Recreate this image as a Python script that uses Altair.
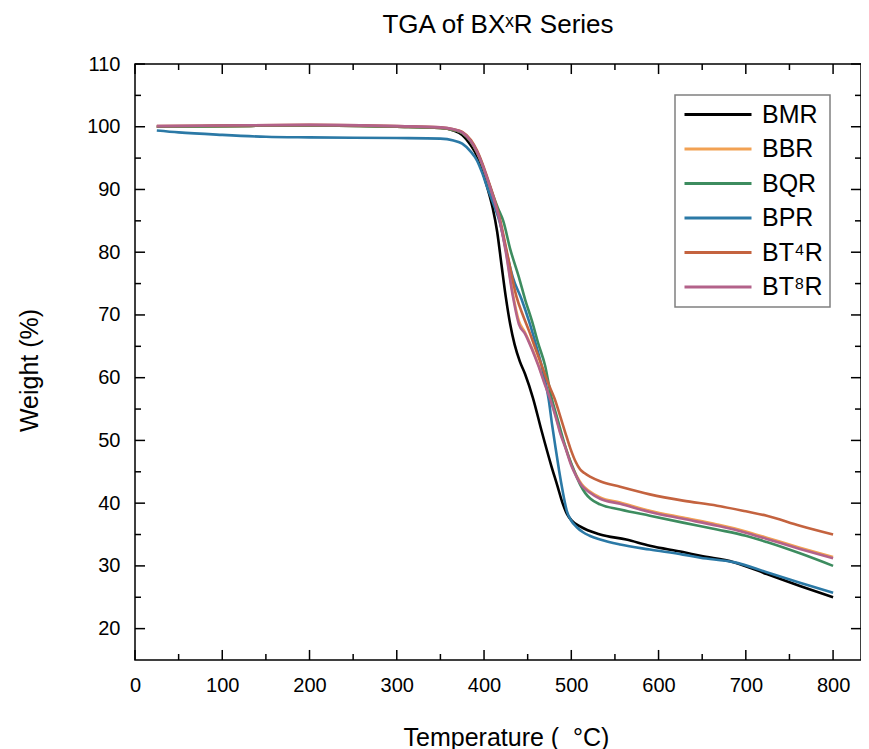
import altair as alt
import pandas as pd

FONT = "Liberation Sans"

series_names = ["BMR", "BBR", "BQR", "BPR", "BT⁴R", "BT⁸R"]
series_colors = ["#000000", "#F2A153", "#3D8C5F", "#2B79A6", "#C4633F", "#B3628A"]

bmr_t = [25, 100, 200, 300, 350, 365, 375, 385, 392, 398, 404, 410, 415, 420, 425, 430, 435, 441, 447, 456, 466, 477, 484, 490, 495, 500, 510, 533, 563, 590, 628, 648, 686, 724, 762, 800]
bmr_w = [100.0, 100.1, 100.2, 100.0, 99.8, 99.4, 98.7, 97.0, 95.3, 93.0, 90.2, 87.0, 83.3, 78.0, 72.8, 68.5, 65.3, 62.6, 60.6, 56.8, 51.5, 46.0, 42.8, 40.0, 38.3, 37.3, 36.3, 35.0, 34.2, 33.2, 32.2, 31.6, 30.6, 28.7, 26.8, 25.0]

bbr_t = [25, 100, 200, 300, 350, 365, 375, 385, 392, 398, 404, 410, 418, 425, 433, 440, 447, 455, 462, 469, 476, 482, 487, 494, 500, 506, 512, 521, 533, 556, 590, 628, 667, 700, 724, 762, 800]
bbr_w = [100.0, 100.1, 100.2, 100.0, 99.8, 99.5, 99.0, 97.6, 95.9, 93.9, 91.5, 89.0, 85.1, 80.3, 73.4, 69.0, 67.2, 64.7, 62.2, 59.4, 56.7, 54.0, 51.5, 48.7, 46.2, 44.4, 43.0, 41.9, 40.9, 40.1, 38.8, 37.7, 36.6, 35.5, 34.5, 32.9, 31.4]

bqr_t = [25, 100, 200, 300, 350, 365, 375, 385, 392, 398, 404, 410, 416, 422, 430, 440, 447, 455, 462, 470, 477, 483, 489, 495, 502, 510, 516, 522, 533, 556, 590, 628, 667, 700, 724, 762, 800]
bqr_w = [100.0, 100.1, 100.2, 100.0, 99.8, 99.5, 99.0, 97.6, 96.0, 94.0, 91.6, 89.2, 87.0, 85.0, 80.5, 76.0, 72.5, 69.0, 65.5, 61.9, 57.0, 54.0, 51.0, 48.2, 45.6, 43.0, 41.6, 40.7, 39.8, 39.0, 38.0, 36.9, 35.8, 34.8, 33.8, 32.0, 30.0]

bpr_t = [25, 50, 100, 150, 200, 300, 350, 365, 375, 385, 392, 398, 404, 410, 418, 425, 433, 443, 452, 460, 466, 470, 474, 478, 482, 486, 490, 495, 500, 506, 513, 521, 533, 556, 590, 628, 648, 686, 724, 762, 800]
bpr_w = [99.4, 99.1, 98.7, 98.4, 98.3, 98.2, 98.1, 97.8, 97.3, 96.0, 94.6, 92.6, 90.2, 88.0, 84.8, 80.5, 76.0, 72.5, 68.8, 65.0, 61.9, 59.5, 56.6, 52.5, 48.8, 45.2, 42.0, 38.7, 37.2, 36.2, 35.4, 34.8, 34.2, 33.4, 32.6, 31.8, 31.3, 30.6, 29.0, 27.3, 25.7]

bt4r_t = [25, 100, 200, 300, 350, 365, 375, 385, 392, 398, 404, 410, 418, 427, 437, 445, 452, 459, 466, 473, 481, 487, 493, 499, 505, 510, 515, 522, 533, 556, 590, 628, 667, 700, 724, 762, 800]
bt4r_w = [100.1, 100.2, 100.3, 100.1, 99.9, 99.6, 99.2, 97.9, 96.2, 94.2, 91.8, 89.3, 85.4, 79.5, 73.0, 69.8, 67.3, 64.6, 62.0, 59.3, 56.6, 54.0, 51.3, 48.7, 46.6, 45.4, 44.8, 44.2, 43.5, 42.6, 41.4, 40.4, 39.6, 38.7, 38.0, 36.4, 35.0]

bt8r_t = [25, 100, 200, 300, 350, 365, 375, 385, 392, 398, 404, 410, 418, 425, 433, 440, 447, 455, 462, 469, 476, 482, 487, 494, 500, 506, 512, 521, 533, 556, 590, 628, 667, 700, 724, 762, 800]
bt8r_w = [100.1, 100.2, 100.3, 100.1, 99.9, 99.6, 99.1, 97.7, 96.0, 94.0, 91.6, 89.0, 85.0, 80.0, 73.0, 68.5, 67.0, 64.5, 62.0, 59.2, 56.5, 53.8, 51.3, 48.5, 46.0, 44.2, 42.8, 41.7, 40.7, 39.9, 38.6, 37.5, 36.4, 35.3, 34.3, 32.7, 31.2]

x_major = [0, 100, 200, 300, 400, 500, 600, 700, 800]
x_minor = [50, 150, 250, 350, 450, 550, 650, 750]
y_major = [20, 30, 40, 50, 60, 70, 80, 90, 100, 110]
y_minor = [25, 35, 45, 55, 65, 75, 85, 95, 105]

X_MIN, X_MAX = 0, 832
Y_MIN, Y_MAX = 15, 110
TX_MAJ, TX_MIN = 1.6, 0.96
TY_MAJ, TY_MIN = 11.5, 6.9

series_t = [bmr_t, bbr_t, bqr_t, bpr_t, bt4r_t, bt8r_t]
series_w = [bmr_w, bbr_w, bqr_w, bpr_w, bt4r_w, bt8r_w]

rows = []
for name, ts, ws in zip(series_names, series_t, series_w):
    for t, w in zip(ts, ws):
        rows.append({"series": name, "T": t, "W": w})
df = pd.DataFrame(rows)

tick_rows = []
for vals, ln in ((x_major, TX_MAJ), (x_minor, TX_MIN)):
    for v in vals:
        tick_rows.append({"T": v, "T2": v, "W": Y_MIN, "W2": Y_MIN + ln})
        tick_rows.append({"T": v, "T2": v, "W": Y_MAX, "W2": Y_MAX - ln})
for vals, ln in ((y_major, TY_MAJ), (y_minor, TY_MIN)):
    for v in vals:
        tick_rows.append({"T": X_MIN, "T2": X_MIN + ln, "W": v, "W2": v})
        tick_rows.append({"T": X_MAX, "T2": X_MAX - ln, "W": v, "W2": v})
ticks_df = pd.DataFrame(tick_rows)

x_scale = alt.Scale(domain=[X_MIN, X_MAX], nice=False, zero=False)
y_scale = alt.Scale(domain=[Y_MIN, Y_MAX], nice=False, zero=False)

x_axis = alt.Axis(
    values=x_major, ticks=False, domain=False, grid=False,
    labelFontSize=20, labelPadding=15, labelFont=FONT, labelColor="black",
    labelFlush=False, labelOverlap=False,
    title="Temperature (\u00a0\u00a0°C)", titleFontSize=25, titleFont=FONT,
    titleFontWeight="normal", titleColor="black",
    titleX=371, titleY=85, titleBaseline="alphabetic", titleAlign="center",
)
y_axis = alt.Axis(
    values=y_major, ticks=False, domain=False, grid=False,
    labelFontSize=20, labelPadding=15, labelFont=FONT, labelColor="black",
    labelFlush=False, labelOverlap=False,
    title="Weight (%)", titleFontSize=25, titleFont=FONT,
    titleFontWeight="normal", titleColor="black",
    titleX=-106, titleY=306, titleBaseline="middle", titleAlign="center",
)

lines = alt.Chart(df).mark_line(strokeWidth=2.6, interpolate="monotone").encode(
    x=alt.X("T:Q", scale=x_scale, axis=x_axis),
    y=alt.Y("W:Q", scale=y_scale, axis=y_axis),
    color=alt.Color(
        "series:N",
        scale=alt.Scale(domain=series_names, range=series_colors),
        legend=alt.Legend(
            title=None, orient="none", legendX=540, legendY=31,
            symbolType="M-1,0H5.7", symbolSize=400, symbolStrokeWidth=3,
            labelFontSize=25, labelFont=FONT, labelColor="black",
            labelOffset=55, padding=7, rowPadding=8.5,
            strokeColor="#808080", fillColor="white",
        ),
    ),
)

tick_marks = alt.Chart(ticks_df).mark_rule(color="black", strokeWidth=1.5).encode(
    x=alt.X("T:Q", scale=x_scale, axis=x_axis),
    x2="T2:Q",
    y=alt.Y("W:Q", scale=y_scale, axis=y_axis),
    y2="W2:Q",
)

chart = alt.layer(tick_marks, lines).properties(
    width=726,
    height=596,
    autosize=alt.AutoSizeParams(type="none"),
    padding={"left": 127, "top": 56, "right": 0, "bottom": 89},
    title=alt.TitleParams(
        "TGA of BXˣR Series", fontSize=26, font=FONT, fontWeight="normal",
        color="black", anchor="middle", offset=16,
    ),
).configure_view(
    stroke="black", strokeWidth=1.5
).configure_legend(
    strokeWidth=1.5
)

chart.save("out.html", embed_options={"renderer": "svg", "actions": False})
